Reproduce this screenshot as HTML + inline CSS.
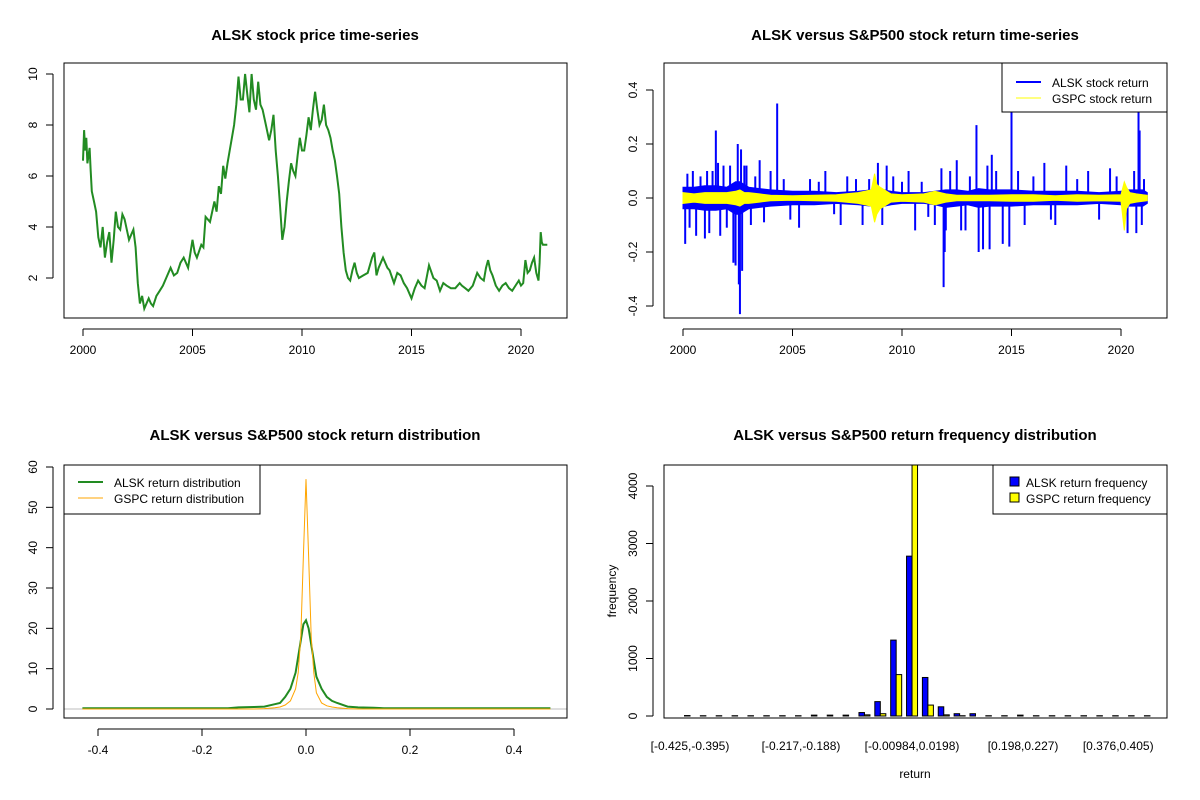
<!DOCTYPE html>
<html><head><meta charset="utf-8"><style>
body{margin:0;background:#fff;}
svg{display:block;font-family:"Liberation Sans",Arial,sans-serif;}
</style></head><body>
<svg id="c" width="1200" height="800" xmlns="http://www.w3.org/2000/svg"></svg>
<script>
// ---- Panel 1: price ----
const priceYears=[2000.0,2000.05,2000.1,2000.15,2000.2,2000.3,2000.35,2000.4,2000.5,2000.6,2000.7,2000.8,2000.9,2001.0,2001.1,2001.2,2001.3,2001.4,2001.5,2001.6,2001.7,2001.8,2001.9,2002.0,2002.1,2002.2,2002.3,2002.4,2002.5,2002.6,2002.7,2002.8,2002.9,2003.0,2003.1,2003.2,2003.35,2003.5,2003.65,2003.8,2004.0,2004.15,2004.3,2004.45,2004.6,2004.8,2005.0,2005.1,2005.2,2005.4,2005.5,2005.6,2005.8,2006.0,2006.1,2006.2,2006.3,2006.4,2006.5,2006.6,2006.7,2006.8,2006.9,2007.0,2007.1,2007.2,2007.3,2007.4,2007.5,2007.6,2007.7,2007.8,2007.9,2008.0,2008.1,2008.2,2008.35,2008.5,2008.6,2008.7,2008.8,2008.9,2009.0,2009.1,2009.2,2009.3,2009.4,2009.5,2009.6,2009.7,2009.8,2009.9,2010.0,2010.1,2010.2,2010.3,2010.4,2010.5,2010.6,2010.7,2010.8,2010.9,2011.0,2011.1,2011.2,2011.3,2011.4,2011.5,2011.6,2011.7,2011.8,2011.9,2012.0,2012.1,2012.2,2012.3,2012.4,2012.5,2012.6,2012.8,2013.0,2013.2,2013.3,2013.4,2013.5,2013.7,2013.9,2014.0,2014.2,2014.35,2014.5,2014.65,2014.8,2015.0,2015.15,2015.3,2015.45,2015.6,2015.8,2016.0,2016.15,2016.3,2016.45,2016.6,2016.8,2017.0,2017.2,2017.3,2017.45,2017.6,2017.8,2018.0,2018.15,2018.3,2018.4,2018.5,2018.6,2018.7,2018.85,2019.0,2019.15,2019.3,2019.45,2019.6,2019.75,2019.9,2020.0,2020.1,2020.2,2020.3,2020.4,2020.5,2020.6,2020.7,2020.8,2020.85,2020.9,2020.95,2021.0,2021.1,2021.2];
const priceValues=[6.6,7.8,7.0,7.5,6.5,7.1,6.2,5.4,5.0,4.6,3.6,3.2,4.0,2.8,3.4,3.8,2.6,3.5,4.6,4.0,3.9,4.5,4.3,3.9,3.5,3.7,3.9,3.2,1.8,1.0,1.3,0.8,1.0,1.2,1.0,0.9,1.3,1.5,1.7,2.0,2.4,2.1,2.2,2.6,2.8,2.4,3.5,3.0,2.8,3.3,3.2,4.4,4.2,5.0,4.6,5.6,5.3,6.4,5.9,6.5,7.0,7.5,8.0,8.8,9.9,9.0,9.0,10.0,9.2,8.5,10.0,9.0,8.6,9.7,8.8,8.6,8.0,7.4,7.8,8.4,7.0,6.0,4.8,3.5,4.0,5.0,5.8,6.5,6.2,6.0,6.8,7.5,7.0,7.0,7.6,8.3,7.8,8.6,9.3,8.6,8.0,8.2,8.8,8.0,7.8,7.5,7.0,6.6,6.0,5.3,4.0,3.0,2.3,2.0,1.9,2.3,2.6,2.2,2.0,2.1,2.2,2.8,3.0,2.1,2.4,2.8,2.4,2.3,1.8,2.2,2.1,1.8,1.6,1.2,1.6,1.9,1.7,1.6,2.5,2.0,1.9,1.5,1.8,1.7,1.6,1.6,1.8,1.7,1.6,1.5,1.7,2.2,2.0,1.9,2.4,2.7,2.3,2.1,1.7,1.5,1.7,1.8,1.6,1.5,1.7,1.9,1.7,1.8,2.7,2.2,2.3,2.6,2.8,2.2,1.9,2.6,3.8,3.4,3.3,3.3,3.3];
// ---- Panel 2: returns ----
const bandYears=[2000,2000.5,2001,2001.5,2002,2002.4,2002.6,2002.8,2003,2003.5,2004,2005,2006,2007,2008,2008.6,2008.75,2008.85,2009,2009.2,2009.5,2010,2011,2011.5,2012,2012.5,2013,2013.5,2014,2015,2016,2017,2018,2019,2020,2020.15,2020.25,2020.4,2020.7,2021,2021.2];
const alskUpper=[0.04,0.04,0.045,0.045,0.04,0.06,0.06,0.05,0.04,0.035,0.03,0.025,0.025,0.02,0.025,0.03,0.03,0.03,0.03,0.03,0.025,0.02,0.02,0.025,0.03,0.03,0.025,0.035,0.03,0.03,0.025,0.025,0.025,0.02,0.025,0.03,0.03,0.03,0.03,0.03,0.02];
const alskLower=[-0.04,-0.04,-0.045,-0.045,-0.04,-0.06,-0.06,-0.05,-0.04,-0.035,-0.03,-0.025,-0.025,-0.02,-0.025,-0.03,-0.03,-0.03,-0.03,-0.03,-0.025,-0.02,-0.02,-0.025,-0.035,-0.03,-0.025,-0.035,-0.03,-0.03,-0.025,-0.025,-0.025,-0.02,-0.025,-0.03,-0.03,-0.03,-0.03,-0.03,-0.02];
const spikeYears=[2000.1,2000.2,2000.3,2000.45,2000.6,2000.8,2001.0,2001.1,2001.2,2001.35,2001.5,2001.6,2001.7,2001.85,2002.0,2002.15,2002.3,2002.4,2002.5,2002.55,2002.6,2002.65,2002.7,2002.8,2002.9,2003.1,2003.3,2003.5,2003.7,2004.0,2004.3,2004.6,2004.9,2005.3,2005.8,2006.2,2006.5,2006.9,2007.2,2007.5,2007.9,2008.2,2008.5,2008.9,2009.1,2009.3,2009.6,2010.0,2010.3,2010.6,2010.9,2011.2,2011.5,2011.8,2011.9,2011.95,2012.0,2012.2,2012.5,2012.7,2012.9,2013.1,2013.4,2013.5,2013.7,2013.9,2014.0,2014.1,2014.3,2014.6,2014.9,2015.0,2015.3,2015.6,2016.0,2016.5,2016.8,2017.0,2017.5,2018.0,2018.5,2019.0,2019.5,2019.8,2020.3,2020.6,2020.7,2020.8,2020.85,2020.95,2021.05];
const spikeValues=[-0.17,0.09,-0.11,0.1,-0.14,0.08,-0.15,0.1,-0.13,0.1,0.25,0.13,-0.14,0.12,-0.11,0.12,-0.24,-0.25,0.2,-0.32,-0.43,0.18,-0.27,0.12,0.12,-0.1,0.08,0.14,-0.09,0.1,0.35,0.07,-0.08,-0.11,0.07,0.06,0.1,-0.06,-0.1,0.08,0.07,-0.1,0.07,0.13,-0.1,0.12,0.08,0.06,0.1,-0.12,0.06,-0.07,-0.1,0.11,-0.33,-0.2,-0.12,0.1,0.14,-0.12,-0.12,0.08,0.27,-0.2,-0.19,0.12,-0.19,0.16,0.1,-0.17,-0.18,0.32,0.1,-0.1,0.08,0.13,-0.08,-0.1,0.12,0.07,0.1,-0.08,0.11,0.08,-0.13,0.1,-0.13,0.32,0.25,-0.1,0.07];
const gspcUpper=[0.02,0.015,0.02,0.02,0.02,0.025,0.03,0.02,0.02,0.015,0.01,0.008,0.01,0.012,0.02,0.03,0.09,0.05,0.04,0.03,0.015,0.012,0.015,0.025,0.015,0.01,0.01,0.01,0.01,0.012,0.012,0.008,0.012,0.01,0.012,0.06,0.04,0.02,0.015,0.012,0.01];
const gspcLower=[-0.02,-0.015,-0.02,-0.02,-0.02,-0.025,-0.03,-0.02,-0.02,-0.015,-0.01,-0.008,-0.01,-0.012,-0.02,-0.03,-0.09,-0.06,-0.04,-0.03,-0.015,-0.012,-0.015,-0.025,-0.015,-0.01,-0.01,-0.01,-0.01,-0.012,-0.012,-0.008,-0.012,-0.01,-0.012,-0.12,-0.04,-0.02,-0.015,-0.012,-0.01];
// ---- Panel 3: density ----
const densX=[-0.43,-0.15,-0.13,-0.1,-0.08,-0.06,-0.05,-0.04,-0.03,-0.02,-0.015,-0.01,-0.005,0,0.005,0.01,0.015,0.02,0.03,0.04,0.05,0.06,0.08,0.1,0.13,0.15,0.47];
const alskDens=[0.2,0.2,0.4,0.5,0.6,1.2,1.5,3,5,9,13,17,21,22,20,16,12,8,5,3,2,1.5,0.6,0.4,0.3,0.2,0.2];
const gspcDens=[0,0,0,0,0.1,0.3,0.5,1,2,5,9,18,38,57,38,18,9,4,1.5,0.8,0.5,0.3,0.1,0,0,0,0];
// ---- Panel 4: histogram ----
const binLabels=["[-0.425,-0.395)","[-0.217,-0.188)","[-0.00984,0.0198)","[0.198,0.227)","[0.376,0.405)"];
const binLabelIdx=[0,7,14,21,27];
const alskFreq=[8,5,5,5,5,5,5,5,15,15,15,60,250,1320,2780,670,160,40,40,5,5,15,5,5,5,5,5,5,5,5];
const gspcFreq=[0,0,0,0,0,0,0,0,0,0,0,20,40,720,4500,190,20,5,0,0,0,0,0,0,0,0,0,0,0,0];

const NS="http://www.w3.org/2000/svg";
const svg=document.getElementById('c');
function el(tag,attrs,parent,txt){const e=document.createElementNS(NS,tag);for(const k in attrs)e.setAttribute(k,attrs[k]);if(txt!==undefined)e.textContent=txt;(parent||svg).appendChild(e);return e;}
function lin(d0,d1,r0,r1){return v=>r0+(v-d0)*(r1-r0)/(d1-d0);}
function frame(g,x0,y0,x1,y1){el('rect',{x:x0,y:y0,width:x1-x0,height:y1-y0,fill:'none',stroke:'#000','stroke-width':1},g);}
function title(g,x,y,t){const e=el('text',{x:x,y:y,'text-anchor':'middle','font-size':15,'font-weight':'bold'},g,t);}
function xTicks(g,vals,labels,sx,yb){const a=el('g',{},g);
 el('line',{x1:sx(vals[0]),x2:sx(vals[vals.length-1]),y1:yb+11,y2:yb+11,stroke:'#000'},a);
 vals.forEach((v,i)=>{el('line',{x1:sx(v),x2:sx(v),y1:yb+11,y2:yb+18,stroke:'#000'},a);const t=el('text',{x:sx(v),y:yb+36,'text-anchor':'middle','font-size':12},a,labels[i]);});}
function yTicks(g,vals,labels,sy,xl){const a=el('g',{},g);
 el('line',{x1:xl-11,x2:xl-11,y1:sy(vals[0]),y2:sy(vals[vals.length-1]),stroke:'#000'},a);
 vals.forEach((v,i)=>{el('line',{x1:xl-11,x2:xl-18,y1:sy(v),y2:sy(v),stroke:'#000'},a);const t=el('text',{x:xl-27,y:sy(v),'text-anchor':'middle','font-size':12,transform:`rotate(-90 ${xl-27} ${sy(v)})`},a,labels[i]);});}
function path(pts){return pts.map((p,i)=>(i?'L':'M')+p[0].toFixed(1)+','+p[1].toFixed(1)).join('');}

// Panel 1
{const g=el('g',{});
 const sx=lin(2000,2020,83,521), sy=lin(0,10,329,74);
 title(g,315,40,'ALSK stock price time-series');
 const p=el('path',{d:path(priceYears.map((y,i)=>[sx(y),sy(priceValues[i])])),fill:'none',stroke:'#228b22','stroke-width':2},g);
 
 frame(g,64,63,567,318);
 xTicks(g,[2000,2005,2010,2015,2020],['2000','2005','2010','2015','2020'],sx,318);
 yTicks(g,[2,4,6,8,10],['2','4','6','8','10'],sy,64);}

// Panel 2
{const g=el('g',{});
 const sx=lin(2000,2020,683,1121), sy=lin(0,0.4,198,90);
 title(g,915,40,'ALSK versus S&P500 stock return time-series');
 const band=(up,lo,col,nm)=>{const pts=bandYears.map((y,i)=>[sx(y),sy(up[i])]).concat(bandYears.slice().reverse().map((y,j)=>[sx(y),sy(lo[bandYears.length-1-j])]));const e=el('path',{d:path(pts)+'Z',fill:col,stroke:col,'stroke-width':1},g);};
 band(alskUpper,alskLower,'#0000ff','alsk-return-band');
 spikeYears.forEach((y,i)=>{const l=el('line',{x1:sx(y),x2:sx(y),y1:sy(0),y2:sy(spikeValues[i]),stroke:'#0000ff','stroke-width':2},g);});
 band(gspcUpper,gspcLower,'#ffff00','gspc-return-band');
 frame(g,664,63,1167,318);
 xTicks(g,[2000,2005,2010,2015,2020],['2000','2005','2010','2015','2020'],sx,318);
 yTicks(g,[-0.4,-0.2,0,0.2,0.4],['-0.4','-0.2','0.0','0.2','0.4'],sy,664);
 const lg=el('g',{},g);
 el('rect',{x:1002,y:63,width:165,height:49,fill:'#fff',stroke:'#000'},lg);
 el('line',{x1:1016,x2:1041,y1:82,y2:82,stroke:'#0000ff','stroke-width':2},lg);
 el('line',{x1:1016,x2:1041,y1:98,y2:98,stroke:'#ffff00','stroke-width':1},lg);
 el('text',{x:1052,y:87,'font-size':12},lg,'ALSK stock return');
 el('text',{x:1052,y:103,'font-size':12},lg,'GSPC stock return');}

// Panel 3
{const g=el('g',{});
 const sx=lin(0,0.2,306,410), sy=lin(0,60,709,467);
 title(g,315,440,'ALSK versus S&P500 stock return distribution');
 el('line',{x1:64,x2:567,y1:sy(0),y2:sy(0),stroke:'#bebebe'},g);
 const a=el('path',{d:path(densX.map((x,i)=>[sx(x),sy(alskDens[i])])),fill:'none',stroke:'#228b22','stroke-width':2},g);
 
 const b=el('path',{d:path(densX.map((x,i)=>[sx(x),sy(gspcDens[i])])),fill:'none',stroke:'#ffa500','stroke-width':1},g);
 
 frame(g,64,465,567,718);
 xTicks(g,[-0.4,-0.2,0,0.2,0.4],['-0.4','-0.2','0.0','0.2','0.4'],sx,718);
 yTicks(g,[0,10,20,30,40,50,60],['0','10','20','30','40','50','60'],sy,64);
 const lg=el('g',{},g);
 el('rect',{x:64,y:465,width:196,height:49,fill:'#fff',stroke:'#000'},lg);
 el('line',{x1:78,x2:103,y1:482,y2:482,stroke:'#228b22','stroke-width':2},lg);
 el('line',{x1:78,x2:103,y1:498,y2:498,stroke:'#ffa500','stroke-width':1},lg);
 el('text',{x:114,y:487,'font-size':12},lg,'ALSK return distribution');
 el('text',{x:114,y:503,'font-size':12},lg,'GSPC return distribution');}

// Panel 4
{const g=el('g',{});
 const sy=lin(0,4000,716,486); const step=15.86; const cx=i=>690+step*i; const bw=5.5;
 title(g,915,440,'ALSK versus S&P500 return frequency distribution');
 const clip=el('clipPath',{id:'hc'},g);el('rect',{x:664,y:465,width:503,height:253},clip);
 const bars=el('g',{'clip-path':'url(#hc)'},g);
 alskFreq.forEach((v,i)=>{const r=el('rect',{x:cx(i)-bw,y:sy(v),width:bw,height:sy(0)-sy(v),fill:'#0000ff',stroke:'#000','stroke-width':1},bars);});
 gspcFreq.forEach((v,i)=>{const r=el('rect',{x:cx(i),y:sy(v),width:bw,height:sy(0)-sy(v),fill:'#ffff00',stroke:'#000','stroke-width':1},bars);});
 frame(g,664,465,1167,718);
 binLabelIdx.forEach((b,i)=>{const t=el('text',{x:cx(b),y:750,'text-anchor':'middle','font-size':12},g,binLabels[i]);});
 yTicks(g,[0,1000,2000,3000,4000],['0','1000','2000','3000','4000'],sy,664);
 const xt=el('text',{x:915,y:778,'text-anchor':'middle','font-size':12},g,'return');
 const yt=el('text',{x:616,y:591,'text-anchor':'middle','font-size':12,transform:'rotate(-90 616 591)'},g,'frequency');
 const lg=el('g',{},g);
 el('rect',{x:993,y:465,width:174,height:49,fill:'#fff',stroke:'#000'},lg);
 el('rect',{x:1010,y:477,width:9,height:9,fill:'#0000ff',stroke:'#000'},lg);
 el('rect',{x:1010,y:493,width:9,height:9,fill:'#ffff00',stroke:'#000'},lg);
 el('text',{x:1026,y:487,'font-size':12},lg,'ALSK return frequency');
 el('text',{x:1026,y:503,'font-size':12},lg,'GSPC return frequency');}
</script>
</body></html>
